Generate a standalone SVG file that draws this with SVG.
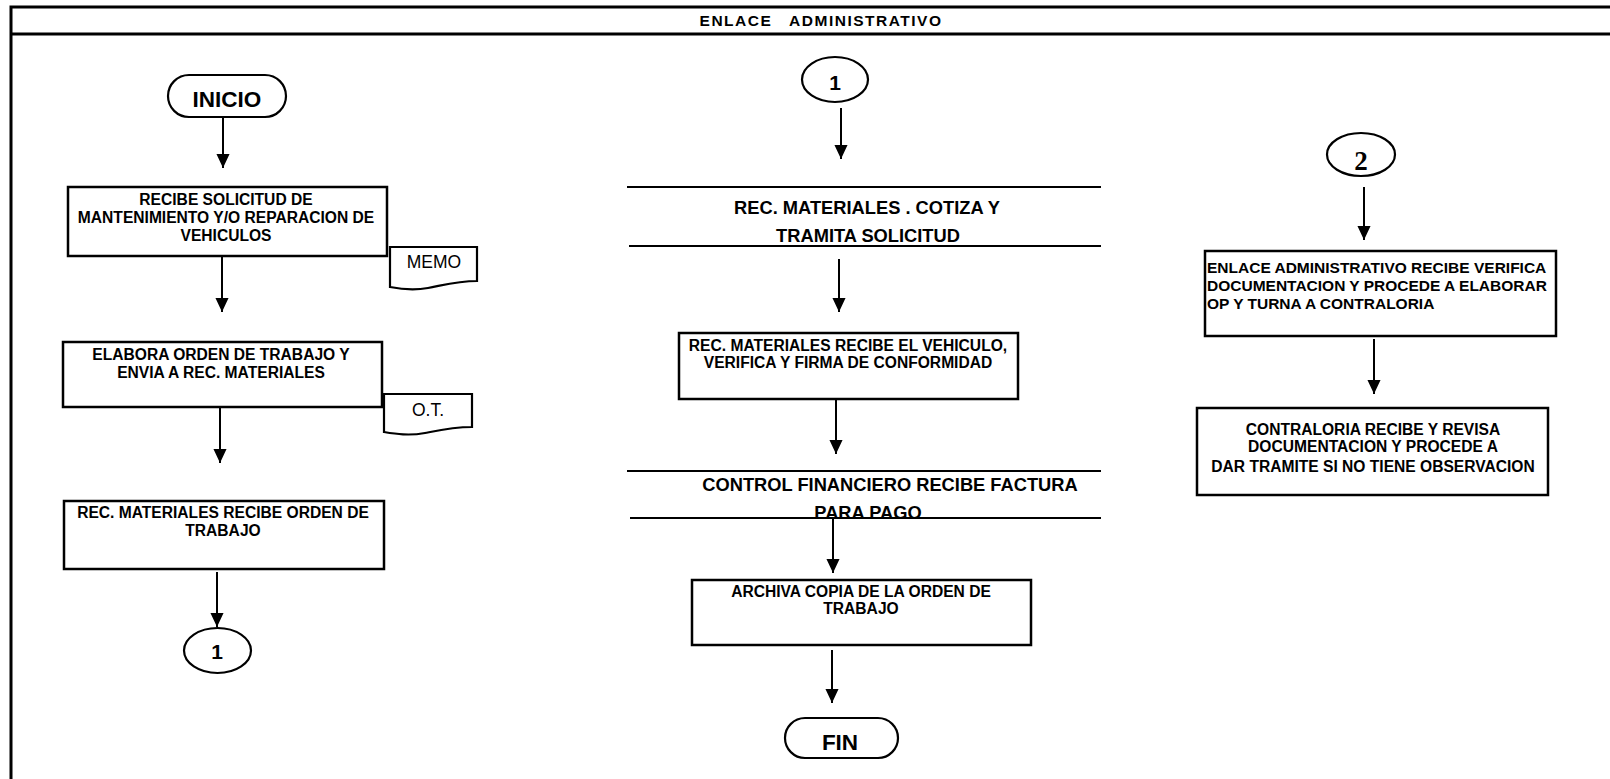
<svg xmlns="http://www.w3.org/2000/svg" width="1610" height="779" viewBox="0 0 1610 779">
  <defs>
    <marker id="head" markerUnits="userSpaceOnUse" markerWidth="14" markerHeight="16" refX="15" refY="7" orient="auto" viewBox="0 0 15 14">
      <path d="M0,0 L15,7 L0,14 Z" fill="#000"/>
    </marker>
  </defs>
  <style>
    .frame { fill: none; stroke: #000; stroke-width: 3; }
    .box { fill: #fff; stroke: #000; stroke-width: 2.5; }
    .term { fill: #fff; stroke: #000; stroke-width: 2.2; }
    .doc { fill: #fff; stroke: #000; stroke-width: 2.2; }
    .rule { stroke: #000; stroke-width: 2.2; }
    .flow { stroke: #000; stroke-width: 2; fill: none; marker-end: url(#head); }
    .t { font-family: "Liberation Sans", Arial, sans-serif; font-weight: bold; font-size: 15.6px; fill: #000; text-anchor: middle; }
    .tl { text-anchor: start; font-size: 15.5px; }
    .big { font-size: 18.3px; }
    .term-t { font-size: 22.5px; }
    .num { font-size: 21px; }
    .num2 { font-family: "Liberation Serif", "Times New Roman", serif; font-size: 27px; }
    .doc-t { font-family: "Liberation Sans", Arial, sans-serif; font-size: 17.5px; fill: #000; text-anchor: middle; }
    .title { font-size: 15.5px; letter-spacing: 1.5px; }
  </style>

  <rect width="1610" height="779" fill="#fff"/>

  <!-- page frame with title band -->
  <g id="frame">
    <rect class="frame" x="11" y="7" width="1620" height="800"/>
    <line class="frame" x1="11" y1="34" x2="1612" y2="34"/>
    <text class="t title" x="821" y="26" xml:space="preserve">ENLACE   ADMINISTRATIVO</text>
  </g>

  <!-- left column -->
  <g id="inicio">
    <rect class="term" x="168" y="75" width="118" height="42" rx="21"/>
    <text class="t term-t" x="227" y="107">INICIO</text>
  </g>
  <g id="recibe-solicitud">
    <rect class="box" x="68" y="187" width="319" height="69"/>
    <text class="t" x="226" y="205">RECIBE SOLICITUD DE</text>
    <text class="t" x="226" y="223">MANTENIMIENTO Y/O REPARACION DE</text>
    <text class="t" x="226" y="241">VEHICULOS</text>
  </g>
  <g id="memo">
    <path class="doc" d="M390,247 H477 V281 C458,281 444,285 428,288 C412,291 400,289 390,287 Z"/>
    <text class="doc-t" x="434" y="268">MEMO</text>
  </g>
  <g id="elabora-orden">
    <rect class="box" x="63" y="342" width="319" height="65"/>
    <text class="t" x="221" y="360">ELABORA ORDEN DE TRABAJO Y</text>
    <text class="t" x="221" y="378">ENVIA A REC. MATERIALES</text>
  </g>
  <g id="ot">
    <path class="doc" d="M384,394 H472 V427 C453,427 440,430 425,433 C409,436 396,434 384,432 Z"/>
    <text class="doc-t" x="428" y="416">O.T.</text>
  </g>
  <g id="recibe-orden">
    <rect class="box" x="64" y="501" width="320" height="68"/>
    <text class="t" x="223" y="518">REC. MATERIALES RECIBE ORDEN DE</text>
    <text class="t" x="223" y="536">TRABAJO</text>
  </g>
  <g id="conector-1-salida">
    <ellipse class="term" cx="217.5" cy="650.5" rx="33.5" ry="22.5"/>
    <text class="t num" x="217" y="659">1</text>
  </g>

  <!-- middle column -->
  <g id="conector-1-entrada">
    <ellipse class="term" cx="835" cy="79.5" rx="33" ry="22.5"/>
    <text class="t num" x="835" y="90">1</text>
  </g>
  <g id="cotiza">
    <line class="rule" x1="627" y1="187" x2="1101" y2="187"/>
    <line class="rule" x1="629" y1="246" x2="1101" y2="246"/>
    <text class="t big" x="867" y="214">REC. MATERIALES . COTIZA Y</text>
    <text class="t big" x="868" y="242">TRAMITA SOLICITUD</text>
  </g>
  <g id="recibe-vehiculo">
    <rect class="box" x="679" y="333" width="339" height="66"/>
    <text class="t" x="848" y="351">REC. MATERIALES RECIBE EL VEHICULO,</text>
    <text class="t" x="848" y="368">VERIFICA Y FIRMA DE CONFORMIDAD</text>
  </g>
  <g id="control-financiero">
    <text class="t big" x="890" y="491">CONTROL FINANCIERO RECIBE FACTURA</text>
    <text class="t big" x="868" y="519">PARA PAGO</text>
    <line class="rule" x1="627" y1="471" x2="1101" y2="471"/>
    <line class="rule" x1="630" y1="518" x2="1101" y2="518"/>
  </g>
  <g id="archiva">
    <rect class="box" x="692" y="580" width="339" height="65"/>
    <text class="t" x="861" y="597">ARCHIVA COPIA DE LA ORDEN DE</text>
    <text class="t" x="861" y="614">TRABAJO</text>
  </g>
  <g id="fin">
    <rect class="term" x="785" y="718" width="113" height="40" rx="20"/>
    <text class="t term-t" x="840" y="750">FIN</text>
  </g>

  <!-- right column -->
  <g id="conector-2">
    <ellipse class="term" cx="1361" cy="154.5" rx="34" ry="21.5"/>
    <text class="t num2" x="1361" y="170">2</text>
  </g>
  <g id="elabora-op">
    <rect class="box" x="1205" y="251" width="351" height="85"/>
    <text class="t tl" x="1207" y="273">ENLACE ADMINISTRATIVO RECIBE VERIFICA</text>
    <text class="t tl" x="1207" y="291">DOCUMENTACION Y PROCEDE A ELABORAR</text>
    <text class="t tl" x="1207" y="309">OP Y TURNA A CONTRALORIA</text>
  </g>
  <g id="contraloria">
    <rect class="box" x="1197" y="408" width="351" height="87"/>
    <text class="t" x="1373" y="435">CONTRALORIA RECIBE Y REVISA</text>
    <text class="t" x="1373" y="452">DOCUMENTACION Y PROCEDE A</text>
    <text class="t" x="1373" y="472">DAR TRAMITE SI NO TIENE OBSERVACION</text>
  </g>

  <!-- flow arrows -->
  <g id="connectors">
    <line class="flow" x1="223" y1="117" x2="223" y2="168"/>
    <line class="flow" x1="222" y1="256" x2="222" y2="312"/>
    <line class="flow" x1="220" y1="407" x2="220" y2="463"/>
    <line class="flow" x1="217" y1="572" x2="217" y2="627"/>
    <line class="flow" x1="841" y1="108" x2="841" y2="159"/>
    <line class="flow" x1="839" y1="259" x2="839" y2="312"/>
    <line class="flow" x1="836" y1="399" x2="836" y2="454"/>
    <line class="flow" x1="833" y1="518" x2="833" y2="573"/>
    <line class="flow" x1="832" y1="650" x2="832" y2="703"/>
    <line class="flow" x1="1364" y1="187" x2="1364" y2="240"/>
    <line class="flow" x1="1374" y1="339" x2="1374" y2="394"/>
  </g>
</svg>
